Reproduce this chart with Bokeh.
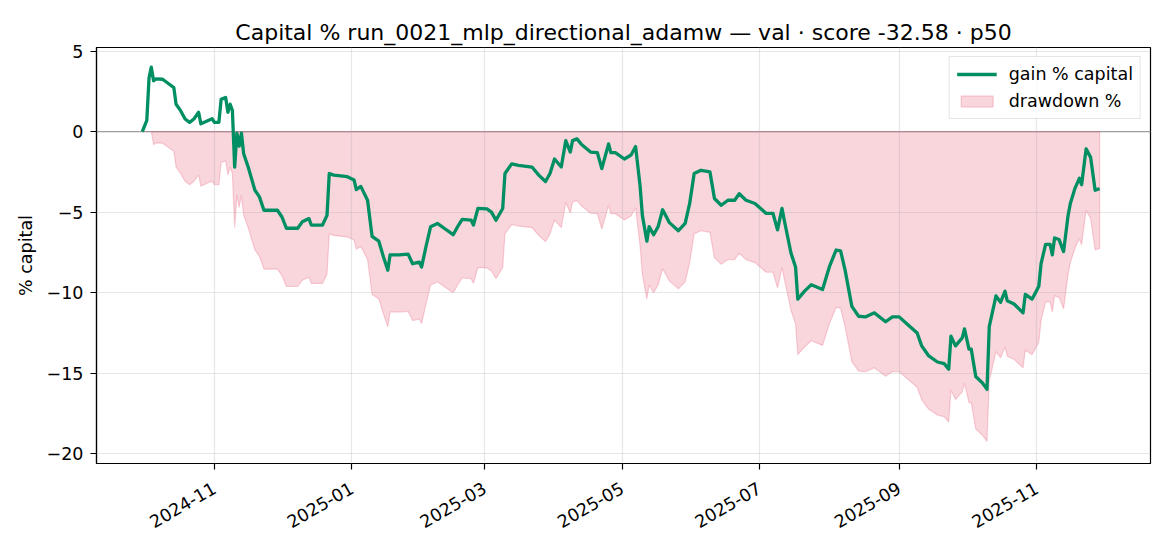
import math
import numpy as np
import pandas as pd
from bokeh.plotting import figure
from bokeh.models import (ColumnDataSource, Range1d, MonthsTicker, DatetimeTickFormatter,
                          FixedTicker, CustomJSTickFormatter, Span, Legend, LegendItem)
from bokeh.embed import file_html
from bokeh.resources import INLINE

TITLE = "Capital % run_0021_mlp_directional_adamw \u2014 val \u00b7 score -32.58 \u00b7 p50"
Y_LABEL = "% capital"
LINE_LABEL = "gain % capital"
FILL_LABEL = "drawdown %"
Y_TICKS = [-20, -15, -10, -5, 0, 5]

dates = [
    "2024-09-30", "2024-10-02", "2024-10-03", "2024-10-04", "2024-10-05", "2024-10-06",
    "2024-10-09", "2024-10-12", "2024-10-14", "2024-10-15", "2024-10-17", "2024-10-19",
    "2024-10-21", "2024-10-23", "2024-10-25", "2024-10-26", "2024-10-29", "2024-10-31",
    "2024-11-01", "2024-11-03", "2024-11-04", "2024-11-06", "2024-11-07", "2024-11-08",
    "2024-11-09", "2024-11-10", "2024-11-11", "2024-11-12", "2024-11-13", "2024-11-14",
    "2024-11-16", "2024-11-19", "2024-11-21", "2024-11-23", "2024-11-26", "2024-11-29",
    "2024-12-01", "2024-12-03", "2024-12-08", "2024-12-10", "2024-12-13", "2024-12-14",
    "2024-12-19", "2024-12-21", "2024-12-22", "2024-12-24", "2024-12-30", "2025-01-02",
    "2025-01-03", "2025-01-05", "2025-01-08", "2025-01-10", "2025-01-13", "2025-01-15",
    "2025-01-17", "2025-01-18", "2025-01-22", "2025-01-26", "2025-01-28", "2025-01-31",
    "2025-02-01", "2025-02-03", "2025-02-05", "2025-02-08", "2025-02-11", "2025-02-15",
    "2025-02-17", "2025-02-19", "2025-02-23", "2025-02-24", "2025-02-26", "2025-03-02",
    "2025-03-04", "2025-03-06", "2025-03-09", "2025-03-10", "2025-03-13", "2025-03-16",
    "2025-03-22", "2025-03-25", "2025-03-28", "2025-03-30", "2025-04-01", "2025-04-04",
    "2025-04-06", "2025-04-08", "2025-04-09", "2025-04-11", "2025-04-13", "2025-04-17",
    "2025-04-20", "2025-04-22", "2025-04-25", "2025-04-26", "2025-04-28", "2025-05-02",
    "2025-05-05", "2025-05-07", "2025-05-09", "2025-05-10", "2025-05-12", "2025-05-13",
    "2025-05-15", "2025-05-17", "2025-05-19", "2025-05-22", "2025-05-26", "2025-05-29",
    "2025-05-31", "2025-06-02", "2025-06-05", "2025-06-09", "2025-06-11", "2025-06-14",
    "2025-06-17", "2025-06-20", "2025-06-22", "2025-06-25", "2025-06-29", "2025-07-04",
    "2025-07-07", "2025-07-09", "2025-07-11", "2025-07-12", "2025-07-15", "2025-07-17",
    "2025-07-18", "2025-07-21", "2025-07-24", "2025-07-29", "2025-08-01", "2025-08-04",
    "2025-08-06", "2025-08-08", "2025-08-11", "2025-08-14", "2025-08-17", "2025-08-21",
    "2025-08-26", "2025-08-29", "2025-09-01", "2025-09-05", "2025-09-09", "2025-09-11",
    "2025-09-14", "2025-09-18", "2025-09-21", "2025-09-23", "2025-09-24", "2025-09-26",
    "2025-09-29", "2025-09-30", "2025-10-02", "2025-10-03", "2025-10-05", "2025-10-08",
    "2025-10-10", "2025-10-11", "2025-10-14", "2025-10-16", "2025-10-18", "2025-10-19",
    "2025-10-22", "2025-10-26", "2025-10-27", "2025-10-30", "2025-11-02", "2025-11-03",
    "2025-11-05", "2025-11-07", "2025-11-08", "2025-11-09", "2025-11-11", "2025-11-13",
    "2025-11-15", "2025-11-16", "2025-11-18", "2025-11-20", "2025-11-21", "2025-11-23",
    "2025-11-25", "2025-11-27", "2025-11-29",
]

gain = [
    0.0, 0.7, 3.35, 4.0, 3.15, 3.27,
    3.25, 2.94, 2.73, 1.7, 1.3, 0.78,
    0.57, 0.8, 1.2, 0.48, 0.68, 0.8,
    0.57, 0.57, 2.0, 2.12, 1.2, 1.7,
    1.3, -2.2, -0.1, -0.9, -0.1, -1.38,
    -2.2, -3.64, -4.05, -4.88, -4.88, -4.88,
    -5.3, -6.0, -6.0, -5.6, -5.4, -5.8,
    -5.8, -5.2, -2.6, -2.7, -2.8, -3.0,
    -3.6, -3.4, -4.26, -6.5, -6.8, -7.75,
    -8.6, -7.65, -7.65, -7.6, -8.2, -8.1,
    -8.4, -7.1, -5.9, -5.7, -6.0, -6.4,
    -5.9, -5.45, -5.5, -5.8, -4.77, -4.8,
    -5.0, -5.5, -4.77, -2.6, -2.0, -2.1,
    -2.2, -2.7, -3.1, -2.6, -1.7, -2.2,
    -0.56, -1.27, -0.56, -0.45, -0.8, -1.27,
    -1.3, -2.3, -0.76, -1.3, -1.3, -1.7,
    -1.45, -0.93, -3.4, -5.2, -6.8, -5.9,
    -6.4, -5.9, -4.85, -5.65, -6.15, -5.7,
    -4.46, -2.6, -2.4, -2.5, -4.15, -4.57,
    -4.26, -4.26, -3.85, -4.26, -4.46, -5.08,
    -5.08, -6.1, -4.77, -5.5, -7.55, -8.4,
    -10.4, -9.9, -9.5, -9.8, -8.4, -7.35,
    -7.4, -8.6, -10.85, -11.46, -11.5, -11.25,
    -11.8, -11.5, -11.5, -12.0, -12.5, -13.3,
    -13.9, -14.3, -14.4, -14.75, -12.7, -13.3,
    -12.8, -12.25, -13.5, -13.5, -15.2, -15.6,
    -16.0, -12.1, -10.2, -10.6, -9.9, -10.5,
    -10.7, -11.25, -10.1, -10.4, -9.6, -8.2,
    -7.0, -7.0, -7.65, -6.6, -6.7, -7.45,
    -5.2, -4.46, -3.54, -2.9, -3.3, -1.07,
    -1.6, -3.64, -3.54,
]

FONT = "DejaVu Sans"
GREEN = "#008f62"

t = pd.to_datetime(dates)
g = np.array(gain, dtype=float)
equity = 1.0 + g / 100.0
peak = np.maximum.accumulate(np.concatenate([[1.0], equity]))[1:]
drawdown = (equity / peak - 1.0) * 100.0

line_src = ColumnDataSource(dict(t=t, g=g))
poly_x = list(t) + list(t[::-1])
poly_y = list(drawdown) + [0.0] * len(t)
poly_src = ColumnDataSource(dict(x=poly_x, y=poly_y))

p = figure(width=1162, height=546, x_axis_type="datetime",
           output_backend="svg", toolbar_location=None,
           x_range=Range1d(pd.Timestamp("2024-09-09 16:00"), pd.Timestamp("2025-12-21 14:00")),
           y_range=Range1d(-20.6, 5.22),
           min_border_left=96, min_border_right=12, min_border_top=47, min_border_bottom=83)

p.title.text = TITLE
p.title.align = "center"
p.title.text_font = FONT
p.title.text_font_size = "22px"
p.title.text_font_style = "normal"
p.title.text_color = "black"
p.title.standoff = 6

p.outline_line_color = "black"
p.outline_line_width = 1.2
p.background_fill_color = "white"
p.border_fill_color = "white"

zero = Span(location=0, dimension="width", line_color="gray", line_width=1.3,
            line_alpha=0.8, level="underlay")
p.add_layout(zero)

patch_r = p.patch(x="x", y="y", source=poly_src, fill_color="crimson", fill_alpha=0.18,
                  line_color="crimson", line_alpha=0.18, line_width=1.2)
line_r = p.line(x="t", y="g", source=line_src, line_color=GREEN, line_width=3.3,
                line_join="round")
line_r.level = "annotation"

p.xaxis.ticker = MonthsTicker(months=[0, 2, 4, 6, 8, 10])
fmt = "%Y-%m"
p.xaxis.formatter = DatetimeTickFormatter(months=fmt, days=fmt, years=fmt, hours=fmt,
                                          minutes=fmt, seconds=fmt, milliseconds=fmt,
                                          minsec=fmt, hourmin=fmt)
p.xaxis.major_label_orientation = math.pi / 6

p.yaxis.ticker = FixedTicker(ticks=Y_TICKS)
p.yaxis.formatter = CustomJSTickFormatter(
    code="return (tick < 0 ? '\u2212' : '') + Math.abs(tick).toString();")
p.yaxis.axis_label = Y_LABEL

for ax in (p.xaxis, p.yaxis):
    ax.axis_line_color = "black"
    ax.axis_line_width = 1.2
    ax.major_tick_line_color = "black"
    ax.major_tick_line_width = 1.2
    ax.major_tick_out = 6
    ax.major_tick_in = 0
    ax.minor_tick_out = 0
    ax.minor_tick_in = 0
    ax.major_label_text_font = FONT
    ax.major_label_text_font_size = "17.5px"
    ax.major_label_text_color = "black"
    ax.major_label_standoff = 7
    ax.axis_label_text_font = FONT
    ax.axis_label_text_font_size = "17.5px"
    ax.axis_label_text_font_style = "normal"
    ax.axis_label_text_color = "black"
p.yaxis.axis_label_standoff = 8
p.xaxis.major_label_standoff = 17

for gr in (p.xgrid, p.ygrid):
    gr.grid_line_color = "#b0b0b0"
    gr.grid_line_alpha = 0.3
    gr.grid_line_width = 1.2
    gr.level = "guide"
p.xgrid.ticker = p.xaxis.ticker
p.ygrid.ticker = p.yaxis.ticker

legend = Legend(items=[LegendItem(label=LINE_LABEL, renderers=[line_r]),
                       LegendItem(label=FILL_LABEL, renderers=[patch_r])],
                location="top_right")
legend.margin = 9
legend.padding = 7
legend.spacing = 7
legend.glyph_width = 40
legend.glyph_height = 14
legend.label_standoff = 12
legend.label_text_font = FONT
legend.label_text_font_size = "17.5px"
legend.label_text_color = "black"
legend.border_line_color = "#cccccc"
legend.border_line_width = 1.2
legend.background_fill_alpha = 0.8
p.add_layout(legend)

open("out.html", "w").write(file_html(p, INLINE))
